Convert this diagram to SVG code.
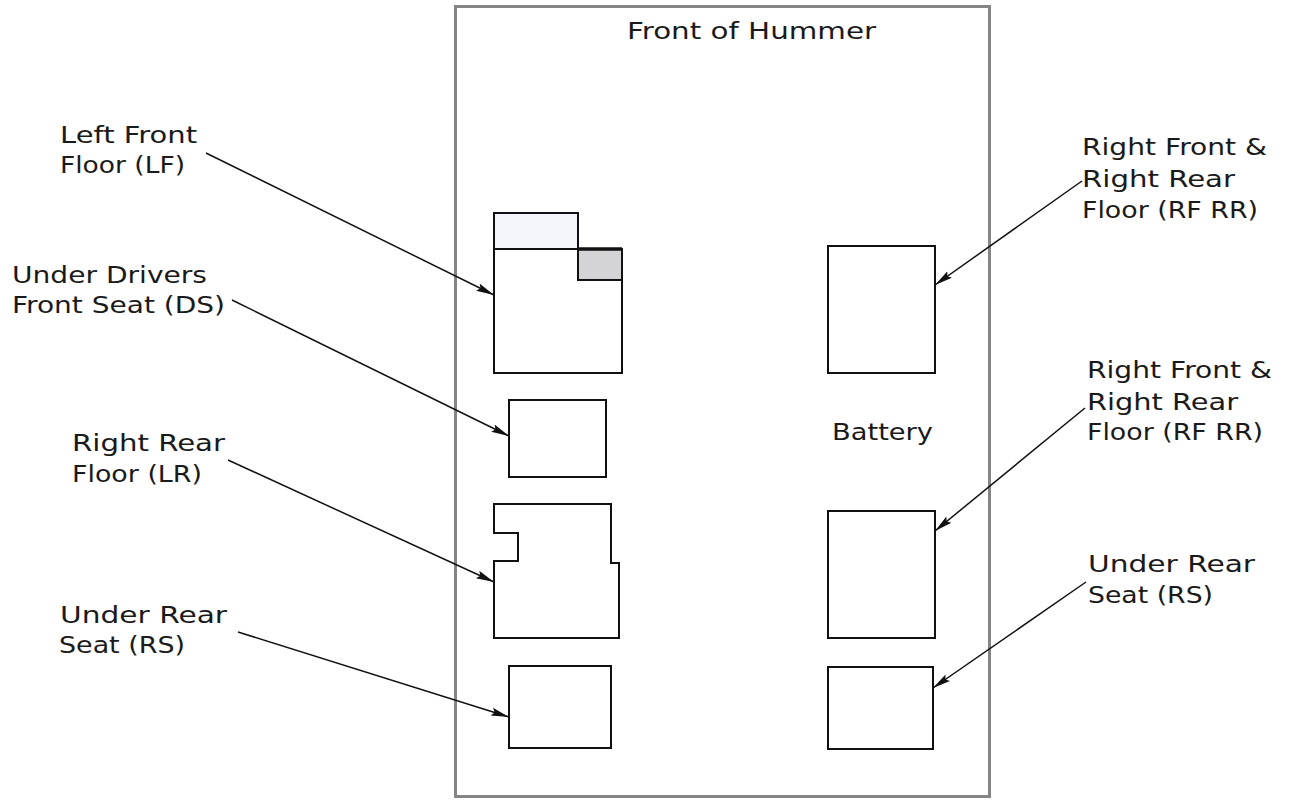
<svg xmlns="http://www.w3.org/2000/svg" width="1289" height="801" viewBox="0 0 1289 801">
<style>
text{font-family:"DejaVu Sans","Liberation Sans",sans-serif;font-size:23px;fill:#1a1a1a}
.box{fill:#fff;stroke:#111;stroke-width:2}
.ln{stroke:#111;stroke-width:1.5;fill:none;marker-end:url(#ah)}
</style>
<defs>
<marker id="ah" markerUnits="userSpaceOnUse" markerWidth="20" markerHeight="12" refX="18" refY="5" orient="auto">
<path d="M0,1 L18,5 L0,9 L3,5 Z" fill="#111"/>
</marker>
</defs>
<rect width="1289" height="801" fill="#fff"/>
<g id="vehicle">
<rect x="455.5" y="6.5" width="534" height="790" fill="none" stroke="#858585" stroke-width="3"/>
<text x="627" y="39" textLength="249" lengthAdjust="spacingAndGlyphs">Front of Hummer</text>
</g>
<g id="lf-box">
<rect x="494" y="213" width="84" height="36" fill="#f4f4fb" stroke="#111" stroke-width="2"/>
<path class="box" d="M494,249 H622 V373 H494 Z"/>
<rect x="578" y="249" width="44" height="31" fill="#d4d4d6" stroke="#111" stroke-width="2"/>
<line x1="578" y1="249" x2="622" y2="249" stroke="#111" stroke-width="3.5"/>
</g>
<g id="ds-box"><rect class="box" x="509" y="400" width="97" height="77"/></g>
<g id="lr-box"><path class="box" d="M494,504 H611 V563 H619 V638 H494 V561 H518 V533 H494 Z"/></g>
<g id="rs-left-box"><rect class="box" x="509" y="666" width="102" height="82"/></g>
<g id="rf-rr-top-box"><rect class="box" x="828" y="246" width="107" height="127"/></g>
<g id="battery"><text x="832" y="440" textLength="101" lengthAdjust="spacingAndGlyphs">Battery</text></g>
<g id="rf-rr-bottom-box"><rect class="box" x="828" y="511" width="107" height="127"/></g>
<g id="rs-right-box"><rect class="box" x="828" y="667" width="105" height="82"/></g>
<g id="label-lf">
<text x="60" y="143" textLength="137" lengthAdjust="spacingAndGlyphs">Left Front</text>
<text x="60" y="173" textLength="125" lengthAdjust="spacingAndGlyphs">Floor (LF)</text>
</g>
<g id="label-ds">
<text x="12" y="283" textLength="195" lengthAdjust="spacingAndGlyphs">Under Drivers</text>
<text x="12" y="313" textLength="213" lengthAdjust="spacingAndGlyphs">Front Seat (DS)</text>
</g>
<g id="label-lr">
<text x="72" y="451" textLength="153" lengthAdjust="spacingAndGlyphs">Right Rear</text>
<text x="72" y="482" textLength="130" lengthAdjust="spacingAndGlyphs">Floor (LR)</text>
</g>
<g id="label-rs-left">
<text x="60" y="623" textLength="167" lengthAdjust="spacingAndGlyphs">Under Rear</text>
<text x="59" y="653" textLength="126" lengthAdjust="spacingAndGlyphs">Seat (RS)</text>
</g>
<g id="label-rf-rr-top">
<text x="1082" y="155" textLength="185" lengthAdjust="spacingAndGlyphs">Right Front &amp;</text>
<text x="1082" y="187" textLength="153" lengthAdjust="spacingAndGlyphs">Right Rear</text>
<text x="1082" y="218" textLength="176" lengthAdjust="spacingAndGlyphs">Floor (RF RR)</text>
</g>
<g id="label-rf-rr-bottom">
<text x="1087" y="378" textLength="185" lengthAdjust="spacingAndGlyphs">Right Front &amp;</text>
<text x="1087" y="410" textLength="151" lengthAdjust="spacingAndGlyphs">Right Rear</text>
<text x="1087" y="440" textLength="176" lengthAdjust="spacingAndGlyphs">Floor (RF RR)</text>
</g>
<g id="label-rs-right">
<text x="1088" y="572" textLength="167" lengthAdjust="spacingAndGlyphs">Under Rear</text>
<text x="1088" y="603" textLength="125" lengthAdjust="spacingAndGlyphs">Seat (RS)</text>
</g>
<g id="connectors">
<line class="ln" x1="206" y1="153" x2="494" y2="295"/>
<line class="ln" x1="232" y1="300" x2="509" y2="436"/>
<line class="ln" x1="228" y1="460" x2="494" y2="582"/>
<line class="ln" x1="238" y1="632" x2="509" y2="717"/>
<line class="ln" x1="1082" y1="181" x2="935" y2="285"/>
<line class="ln" x1="1085" y1="408" x2="935" y2="531"/>
<line class="ln" x1="1086" y1="582" x2="933" y2="688"/>
</g>
</svg>
